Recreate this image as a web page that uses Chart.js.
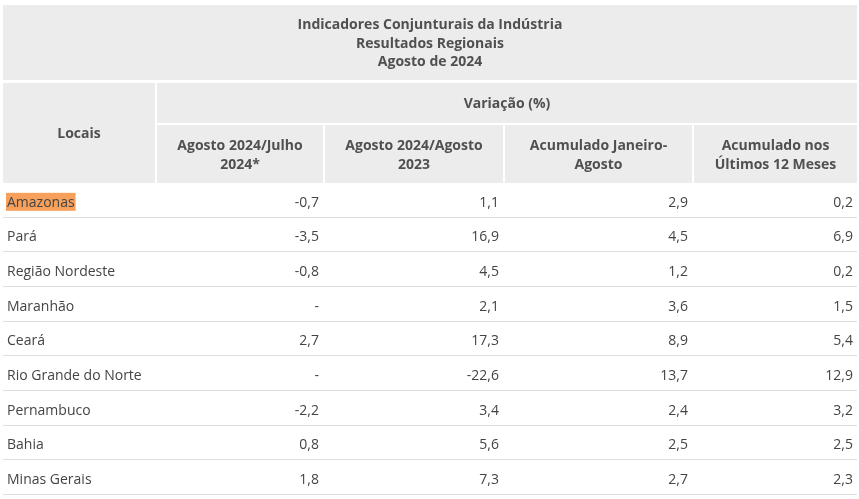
<!DOCTYPE html>
<html>
<head>
<meta charset="utf-8">
<script src="https://cdn.jsdelivr.net/npm/chart.js@4"></script>
<style>
  html, body { margin: 0; padding: 0; background: #fff; }
  #wrap { width: 859px; height: 499px; position: relative; }
</style>
</head>
<body>
<div id="wrap"><canvas id="tabela"></canvas></div>
<script>
'use strict';

const titleLines = ['Indicadores Conjunturais da Indústria', 'Resultados Regionais', 'Agosto de 2024'];
const groupLabel = 'Variação (%)';
const rowHeader = 'Locais';
const columnLabels = [
    ['Agosto 2024/Julho', '2024*'],
    ['Agosto 2024/Agosto', '2023'],
    ['Acumulado Janeiro-', 'Agosto'],
    ['Acumulado nos', 'Últimos 12 Meses']
];
const locais = ['Amazonas', 'Pará', 'Região Nordeste', 'Maranhão', 'Ceará',
    'Rio Grande do Norte', 'Pernambuco', 'Bahia', 'Minas Gerais'];
const agostoJulho = [-0.7, -3.5, -0.8, null, 2.7, null, -2.2, 0.8, 1.8];
const agostoAgosto = [1.1, 16.9, 4.5, 2.1, 17.3, -22.6, 3.4, 5.6, 7.3];
const acumuladoAno = [2.9, 4.5, 1.2, 3.6, 8.9, 13.7, 2.4, 2.5, 2.7];
const acumulado12m = [0.2, 6.9, 0.2, 1.5, 5.4, 12.9, 3.2, 2.5, 2.3];
const highlighted = 'Amazonas';

// layout (x units of the hidden linear scale)
const colEdges = [3, 155, 157, 323, 325, 503, 505, 692, 694, 857];
const HEADER_BG = '#ececec';
const HEADER_FG = '#505050';
const CELL_FG = '#444';
const LINE = '#dddddd';
const FONT = '"Open Sans", Arial, sans-serif';

function fmt(v) {
    if (v === null) return '-';
    return v.toFixed(1).replace('.', ',');
}

const series = [agostoJulho, agostoAgosto, acumuladoAno, acumulado12m];

const tablePlugin = {
    id: 'tablePlugin',
    beforeDraw(chart) {
        const ctx = chart.ctx;
        const x = chart.scales.x;
        const px = v => x.getPixelForValue(v);
        ctx.save();
        ctx.fillStyle = HEADER_BG;
        // title block
        ctx.fillRect(px(3), 5, px(857) - px(3), 75);
        // Locais
        ctx.fillRect(px(3), 83, px(155) - px(3), 100);
        // group
        ctx.fillRect(px(157), 83, px(857) - px(157), 40);
        // sub headers
        for (let c = 0; c < 4; c++) {
            const l = colEdges[2 + c * 2], r = colEdges[3 + c * 2];
            ctx.fillRect(px(l), 125, px(r) - px(l), 58);
        }

        ctx.fillStyle = HEADER_FG;
        ctx.font = `bold 14px ${FONT}`;
        ctx.textAlign = 'center';
        ctx.textBaseline = 'middle';
        titleLines.forEach((t, i) => ctx.fillText(t, px(430), 25.5 + i * 18.5));
        ctx.fillText(groupLabel, px(507), 104.5);
        ctx.fillText(rowHeader, px(79), 134.5);
        columnLabels.forEach((lines, c) => {
            const l = colEdges[2 + c * 2], r = colEdges[3 + c * 2];
            lines.forEach((t, i) => ctx.fillText(t, px((l + r) / 2), 146.5 + i * 18.5));
        });
        ctx.restore();
    },
    afterDraw(chart) {
        const ctx = chart.ctx;
        const x = chart.scales.x, y = chart.scales.y;
        const px = v => x.getPixelForValue(v);
        const step = (chart.chartArea.bottom - chart.chartArea.top) / locais.length;
        ctx.save();
        ctx.font = `14px ${FONT}`;
        ctx.textBaseline = 'middle';
        locais.forEach((loc, i) => {
            const cy = y.getPixelForValue(i);
            // row separator
            ctx.strokeStyle = LINE;
            ctx.lineWidth = 1;
            const ly = Math.round(chart.chartArea.top + step * (i + 1)) - 0.5;
            ctx.beginPath();
            ctx.moveTo(px(3), ly);
            ctx.lineTo(px(857), ly);
            ctx.stroke();

            if (loc === highlighted) {
                const w = ctx.measureText(loc).width;
                ctx.fillStyle = '#f7a05b';
                ctx.fillRect(px(6), cy - 7.5, w + 2, 18);
            }
            ctx.fillStyle = CELL_FG;
            ctx.textAlign = 'left';
            ctx.fillText(loc, px(7), cy + 2.5);
            ctx.textAlign = 'right';
            series.forEach((s, c) => {
                const r = colEdges[3 + c * 2];
                ctx.fillText(fmt(s[i]), px(r - 4), cy + 2.5);
            });
        });
        ctx.restore();
    }
};

new Chart(document.getElementById('tabela'), {
    type: 'scatter',
    data: {
        datasets: [{
            data: [],
            pointRadius: 0
        }]
    },
    options: {
        responsive: true,
        maintainAspectRatio: false,
        animation: false,
        events: [],
        layout: { padding: { top: 183, bottom: 4, left: 0, right: 0 } },
        plugins: { legend: { display: false }, tooltip: { enabled: false } },
        scales: {
            x: { type: 'linear', min: 0, max: 859, display: false },
            y: { type: 'category', labels: locais, offset: true, display: false }
        }
    },
    plugins: [tablePlugin]
});
</script>
</body>
</html>
